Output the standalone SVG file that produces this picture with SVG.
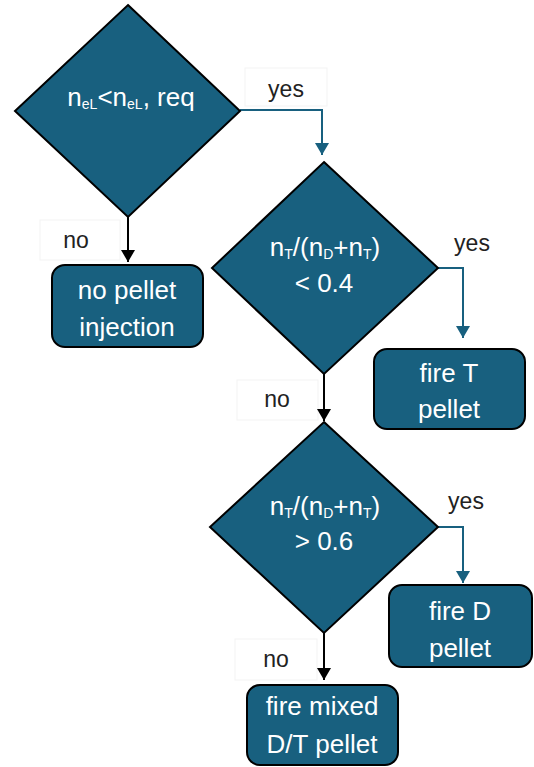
<svg xmlns="http://www.w3.org/2000/svg" width="534" height="767" viewBox="0 0 534 767">
<style>
.shape{fill:#18607f;stroke:#000;stroke-width:2}
.t{font-family:"Liberation Sans",Arial,sans-serif;fill:#fff;font-size:26px;text-anchor:middle}
.lbl{font-family:"Liberation Sans",Arial,sans-serif;fill:#222;font-size:23px;text-anchor:middle}
.lblbox{fill:#fff;stroke:#f3f3f3;stroke-width:1}
.no{fill:none;stroke:#000;stroke-width:2}
.yes{fill:none;stroke:#18607f;stroke-width:2}
</style>
<defs>
<marker id="ab" markerWidth="12" markerHeight="14" refX="12" refY="7" orient="auto" markerUnits="userSpaceOnUse" viewBox="0 0 12 14"><path d="M0,0 L12,7 L0,14 Z" fill="#000"/></marker>
<marker id="at" markerWidth="12" markerHeight="14" refX="12" refY="7" orient="auto" markerUnits="userSpaceOnUse" viewBox="0 0 12 14"><path d="M0,0 L12,7 L0,14 Z" fill="#18607f"/></marker>
</defs>
<rect width="534" height="767" fill="#fff"/>
<g id="labels">
<rect class="lblbox" x="245" y="68" width="82" height="38"/>
<text class="lbl" x="286" y="97">yes</text>
<rect class="lblbox" x="40" y="220" width="80" height="40"/>
<text class="lbl" x="76" y="248">no</text>
<text class="lbl" x="472" y="251">yes</text>
<rect class="lblbox" x="237" y="380" width="81" height="40"/>
<text class="lbl" x="277" y="407">no</text>
<text class="lbl" x="466" y="509">yes</text>
<rect class="lblbox" x="235" y="639" width="82" height="41"/>
<text class="lbl" x="276" y="667">no</text>
</g>
<g id="connectors">
<path class="yes" d="M240,110 H322 V155" marker-end="url(#at)"/>
<path class="no" d="M128,216 V262" marker-end="url(#ab)"/>
<path class="yes" d="M438,268 H463 V338" marker-end="url(#at)"/>
<path class="no" d="M324,374 V421" marker-end="url(#ab)"/>
<path class="yes" d="M438,527 H463 V583" marker-end="url(#at)"/>
<path class="no" d="M324,633 V680" marker-end="url(#ab)"/>
</g>
<g id="d1">
<polygon class="shape" points="128,5 240,111 128,217 15,111"/>
<text class="t" x="131" y="106">n<tspan font-size="14" dy="3">eL</tspan><tspan dy="-3">&lt;n</tspan><tspan font-size="14" dy="3">eL</tspan><tspan dy="-3">, req</tspan></text>
</g>
<g id="d2">
<polygon class="shape" points="324,162 438,268 324,374 212,268"/>
<text class="t" x="325" y="256">n<tspan font-size="14" dy="3">T</tspan><tspan dy="-3">/(n</tspan><tspan font-size="14" dy="3">D</tspan><tspan dy="-3">+n</tspan><tspan font-size="14" dy="3">T</tspan><tspan dy="-3">)</tspan></text>
<text class="t" x="324" y="292">&lt; 0.4</text>
</g>
<g id="d3">
<polygon class="shape" points="324,422 438,527 324,633 210,527"/>
<text class="t" x="325" y="515">n<tspan font-size="14" dy="3">T</tspan><tspan dy="-3">/(n</tspan><tspan font-size="14" dy="3">D</tspan><tspan dy="-3">+n</tspan><tspan font-size="14" dy="3">T</tspan><tspan dy="-3">)</tspan></text>
<text class="t" x="324" y="550">&gt; 0.6</text>
</g>
<g id="b_nopellet">
<rect class="shape" x="52" y="265" width="151" height="82" rx="13"/>
<text class="t" x="127" y="299">no pellet</text>
<text class="t" x="127" y="336">injection</text>
</g>
<g id="b_fireT">
<rect class="shape" x="374" y="349" width="151" height="80" rx="13"/>
<text class="t" x="449" y="382">fire T</text>
<text class="t" x="449" y="418">pellet</text>
</g>
<g id="b_fireD">
<rect class="shape" x="389" y="585" width="143" height="82" rx="13"/>
<text class="t" x="460" y="620">fire D</text>
<text class="t" x="460" y="657">pellet</text>
</g>
<g id="b_mixed">
<rect class="shape" x="247" y="685" width="151" height="80" rx="13"/>
<text class="t" x="322" y="715">fire mixed</text>
<text class="t" x="322" y="753">D/T pellet</text>
</g>
</svg>
